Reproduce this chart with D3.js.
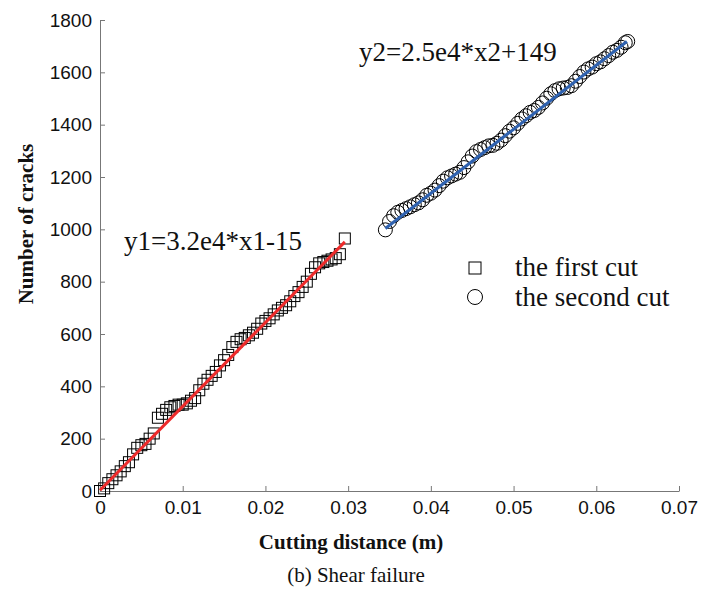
<!DOCTYPE html>
<html>
  <head>
    <style>
      body { margin: 0; background: #fff; }
      .serif { font-family: "Times New Roman", "Liberation Serif", serif; fill: #111; }
    </style>
  </head>
  <body>
    <svg width="702" height="592"></svg>
    <script src="https://d3js.org/d3.v7.min.js"></script>
    <script>
      // first cut (squares)
      var cut1X = [0, 0.0005, 0.001, 0.0015, 0.002, 0.0025, 0.003, 0.0035, 0.004, 0.0045,
                   0.005, 0.0055, 0.006, 0.0065, 0.007, 0.0075, 0.008, 0.0085, 0.009, 0.0095,
                   0.010, 0.0105, 0.011, 0.0115, 0.012, 0.0125, 0.013, 0.0135, 0.014, 0.0145,
                   0.015, 0.0155, 0.016, 0.0165, 0.017, 0.0175, 0.018, 0.0185, 0.019, 0.0195,
                   0.020, 0.0205, 0.021, 0.0215, 0.022, 0.0225, 0.023, 0.0235, 0.024, 0.0245,
                   0.025, 0.0255, 0.026, 0.0265, 0.027, 0.0275, 0.028, 0.0285, 0.029, 0.0296];
      var cut1Y = [0, 10, 30, 45, 60, 75, 95, 110, 140, 165,
                   175, 180, 200, 220, 280, 295, 310, 320, 325, 330,
                   330, 335, 345, 355, 385, 410, 425, 440, 455, 480,
                   500, 520, 550, 570, 580, 585, 595, 605, 620, 640,
                   650, 660, 675, 690, 700, 710, 725, 745, 760, 780,
                   800, 830, 855, 870, 875, 880, 885, 890, 905, 965];

      // second cut (circles)
      var cut2X = [0.0345, 0.035, 0.0355, 0.036, 0.0365, 0.037, 0.0375, 0.038, 0.0385, 0.039,
                   0.0395, 0.040, 0.0405, 0.041, 0.0415, 0.042, 0.0425, 0.043, 0.0435, 0.044,
                   0.0445, 0.045, 0.0455, 0.046, 0.0465, 0.047, 0.0475, 0.048, 0.0485, 0.049,
                   0.0495, 0.050, 0.0505, 0.051, 0.0515, 0.052, 0.0525, 0.053, 0.0535, 0.054,
                   0.0545, 0.055, 0.0555, 0.056, 0.0565, 0.057, 0.0575, 0.058, 0.0585, 0.059,
                   0.0595, 0.060, 0.0605, 0.061, 0.0615, 0.062, 0.0625, 0.063, 0.0635, 0.0638];
      var cut2Y = [998, 1030, 1052, 1065, 1072, 1079, 1086, 1094, 1101, 1113,
                   1130, 1138, 1150, 1167, 1184, 1197, 1204, 1211, 1218, 1236,
                   1258, 1280, 1297, 1305, 1312, 1319, 1321, 1329, 1341, 1358,
                   1375, 1388, 1405, 1422, 1434, 1447, 1454, 1466, 1483, 1501,
                   1518, 1530, 1537, 1540, 1542, 1549, 1566, 1584, 1601, 1613,
                   1620, 1633, 1640, 1652, 1664, 1677, 1684, 1696, 1713, 1718];

      // fitted lines, read as end points
      var fit1X = [0, 0.0296], fit1Y = [3, 952];
      var fit2X = [0.0345, 0.0637], fit2Y = [1003, 1718];

      var xTicks = [0, 0.01, 0.02, 0.03, 0.04, 0.05, 0.06, 0.07];
      var yTicks = [0, 200, 400, 600, 800, 1000, 1200, 1400, 1600, 1800];

      var svg = d3.select("svg");

      var x = d3.scaleLinear().domain([0, 0.07]).range([100, 679]);
      var y = d3.scaleLinear().domain([0, 1800]).range([491, 20]);

      // axes, ticks point inward
      svg.append("g")
        .attr("transform", "translate(0,491)")
        .call(d3.axisBottom(x).tickValues(xTicks).tickSizeInner(-5).tickSizeOuter(0).tickPadding(10)
          .tickFormat(function(d) { return d === 0 ? "0" : d3.format(".2f")(d); }));
      svg.append("g")
        .attr("transform", "translate(100,0)")
        .call(d3.axisLeft(y).tickValues(yTicks).tickSizeInner(-5).tickSizeOuter(0).tickPadding(8)
          .tickFormat(d3.format("d")));
      svg.selectAll(".domain, .tick line").attr("stroke", "#777");
      svg.selectAll(".tick text")
        .style("font-family", "Arial, 'Liberation Sans', sans-serif")
        .style("font-size", "19px")
        .attr("fill", "#111");

      var pts1 = cut1X.map(function(v, i) { return [v, cut1Y[i]]; });
      var pts2 = cut2X.map(function(v, i) { return [v, cut2Y[i]]; });

      svg.append("g").selectAll("rect")
        .data(pts1)
        .enter().append("rect")
          .attr("x", function(d) { return x(d[0]) - 5.5; })
          .attr("y", function(d) { return y(d[1]) - 5.5; })
          .attr("width", 11)
          .attr("height", 11)
          .attr("fill", "none")
          .attr("stroke", "#000")
          .attr("stroke-width", 1);

      svg.append("g").selectAll("circle")
        .data(pts2)
        .enter().append("circle")
          .attr("cx", function(d) { return x(d[0]); })
          .attr("cy", function(d) { return y(d[1]); })
          .attr("r", 7)
          .attr("fill", "none")
          .attr("stroke", "#000")
          .attr("stroke-width", 1);

      var line = d3.line().x(function(d) { return x(d[0]); }).y(function(d) { return y(d[1]); });
      svg.append("path")
        .datum(fit1X.map(function(v, i) { return [v, fit1Y[i]]; }))
        .attr("d", line)
        .attr("stroke", "#ee2b2b")
        .attr("stroke-width", 3)
        .attr("fill", "none");
      svg.append("path")
        .datum(fit2X.map(function(v, i) { return [v, fit2Y[i]]; }))
        .attr("d", line)
        .attr("stroke", "#2f62b0")
        .attr("stroke-width", 3)
        .attr("fill", "none");

      // equations
      svg.append("text").attr("class", "serif")
        .attr("x", 124).attr("y", 250)
        .style("font-size", "27px")
        .text("y1=3.2e4*x1-15");
      svg.append("text").attr("class", "serif")
        .attr("x", 359).attr("y", 61)
        .style("font-size", "27px")
        .text("y2=2.5e4*x2+149");

      // legend
      svg.append("rect")
        .attr("x", 469).attr("y", 262).attr("width", 12).attr("height", 12)
        .attr("fill", "none").attr("stroke", "#000");
      svg.append("circle")
        .attr("cx", 475).attr("cy", 297).attr("r", 7.5)
        .attr("fill", "none").attr("stroke", "#000");
      svg.append("text").attr("class", "serif")
        .attr("x", 515).attr("y", 276)
        .style("font-size", "27px")
        .text("the first cut");
      svg.append("text").attr("class", "serif")
        .attr("x", 515).attr("y", 306)
        .style("font-size", "27px")
        .text("the second cut");

      // titles
      svg.append("text").attr("class", "serif")
        .attr("x", 351).attr("y", 549)
        .attr("text-anchor", "middle")
        .style("font-size", "21px").style("font-weight", "bold")
        .text("Cutting distance (m)");
      svg.append("text").attr("class", "serif")
        .attr("transform", "translate(33,224) rotate(-90)")
        .attr("text-anchor", "middle")
        .style("font-size", "21px").style("font-weight", "bold")
        .text("Number of cracks");
      svg.append("text").attr("class", "serif")
        .attr("x", 356).attr("y", 582)
        .attr("text-anchor", "middle")
        .style("font-size", "21px")
        .text("(b) Shear failure");
    </script>
  </body>
</html>
